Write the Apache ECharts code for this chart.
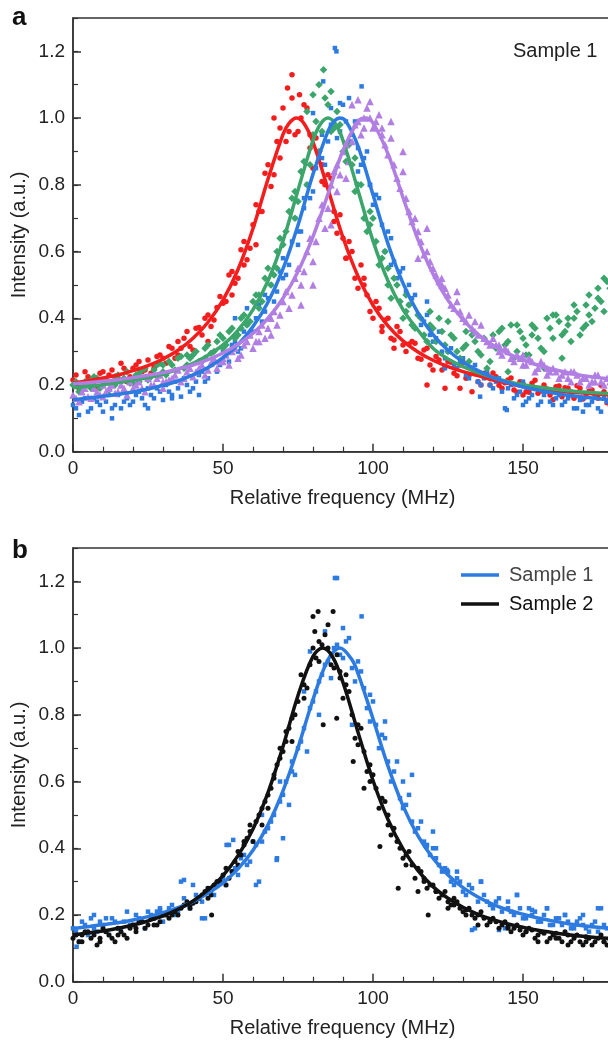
<!DOCTYPE html>
<html><head><meta charset="utf-8">
<script src="https://cdn.jsdelivr.net/npm/echarts@6/dist/echarts.min.js"></script>
<style>html,body{margin:0;padding:0;background:#fff}#c{width:608px;height:1044px}</style>
</head><body><div id="c"></div>
<script>
// ---------- data ----------
const freq = [0,2,4,6,8,10,12,14,16,18,20,22,24,26,28,30,32,34,36,38,40,42,44,46,48,50,52,54,56,58,60,62,64,66,68,70,72,74,76,78,80,82,84,86,88,90,92,94,96,98,100,102,104,106,108,110,112,114,116,118,120,122,124,126,128,130,132,134,136,138,140,142,144,146,148,150,152,154,156,158,160,162,164,166,168,170,172,174,176,178,180];
const freqOdd = [1,3,5,7,9,11,13,15,17,19,21,23,25,27,29,31,33,35,37,39,41,43,45,47,49,51,53,55,57,59,61,63,65,67,69,71,73,75,77,79,81,83,85,87,89,91,93,95,97,99,101,103,105,107,109,111,113,115,117,119,121,123,125,127,129,131,133,135,137,139,141,143,145,147,149,151,153,155,157,159,161,163,165,167,169,171,173,175,177,179];

const redVals = [.215,.19,.24,.21,.19,.24,.23,.215,.265,.21,
 .25,.27,.245,.235,.285,.28,.315,.28,.31,.36,
 .305,.372,.40,.375,.432,.445,.53,.505,.605,.575,
 .68,.72,.835,.795,.93,1.03,.96,.95,1.0,1.03,
 .85,.90,.80,.82,.655,.64,.63,.52,.56,.47,
 .40,.43,.395,.34,.375,.32,.323,.325,.277,.31,
 .245,.275,.256,.268,.228,.268,.229,.236,.2,.232,
 .236,.199,.207,.221,.178,.204,.178,.214,.182,.188,
 .156,.197,.192,.17,.198,.158,.181,.171,.199,.147,.179];
const redOdd = [.23,.2,.225,.2,.235,.21,.245,.22,.25,.225,
 .26,.24,.275,.25,.29,.265,.31,.29,.34,.315,
 .37,.35,.41,.395,.465,.45,.54,.52,.63,.61,
 .74,.72,.86,.83,.97,.93,1.06,.96,1.04,.91,
 .94,.81,.83,.69,.71,.58,.60,.49,.52,.42,
 .45,.375,.40,.335,.36,.30,.33,.28,.305,.26,
 .285,.245,.27,.235,.26,.22,.25,.21,.235,.2,
 .225,.19,.215,.185,.21,.18,.205,.175,.2,.17,
 .195,.165,.19,.16,.19,.165,.185,.16,.18,.165];
const redExtra = [[73,1.13],[71.5,1.09],[75.5,1.07],[69,.88],[67,1.0],[79,.95],[83,.86],[61,.62],[57,.56],[53,.47],[87,.72],[91,.58],[97,.5],[103,.36],[107,.31],[45,.33],[35,.33],[27,.26],[129,.19],[133,.18],[150,.17],[118,.2],[124,.19]];

const greenVals = [.20,.18,.21,.19,.22,.20,.185,.225,.21,.24,
 .205,.235,.25,.225,.26,.24,.27,.245,.285,.26,
 .29,.27,.31,.295,.33,.31,.36,.34,.40,.38,
 .45,.43,.52,.50,.60,.62,.72,.70,.84,.80,
 .95,.90,1.06,.96,1.02,.90,.92,.78,.80,.66,
 .70,.56,.60,.46,.50,.40,.44,.37,.40,.33,
 .37,.40,.32,.35,.30,.31,.27,.33,.29,.25,
 .35,.36,.32,.38,.30,.34,.29,.37,.31,.40,
 .34,.39,.36,.33,.42,.37,.47,.43,.45,.51,.47];
const greenOdd = [.21,.19,.20,.225,.19,.215,.20,.23,.22,.205,
 .23,.245,.215,.245,.265,.23,.26,.28,.25,.28,
 .30,.27,.32,.30,.35,.32,.37,.35,.41,.39,
 .47,.45,.55,.53,.64,.66,.76,.75,.87,.86,
 .99,.96,1.04,.97,.98,.87,.86,.80,.70,.68,
 .63,.58,.50,.52,.45,.42,.38,.41,.35,.38,
 .33,.36,.30,.34,.28,.32,.35,.30,.34,.27,
 .31,.37,.33,.28,.36,.32,.38,.34,.30,.37,
 .41,.35,.38,.40,.35,.44,.39,.46,.42,.49];
const greenExtra = [[83.5,1.145],[82,1.1],[80,1.07],[78,1.02],[86,1.08],[74,.78],[68,.55],[62,.47],[56,.37],[50,.34],[44,.28],[38,.29],[30,.26],[22,.21],[14,.2],[6,.215],[94,.88],[99,.72],[105,.55],[111,.47],[119,.42],[125,.39],[131,.36],[139,.22],[145,.24],[148,.38],[151,.29],[153,.35],[157,.25],[160,.41],[163,.28],[165,.4],[167,.44],[171,.38],[172,.41],[175,.49],[177,.52]];

const blueAVals = [.14,.11,.16,.13,.15,.12,.17,.14,.13,.16,
 .15,.18,.14,.17,.19,.155,.18,.21,.165,.20,
 .19,.23,.21,.26,.24,.30,.27,.33,.31,.38,
 .36,.44,.42,.50,.48,.58,.56,.70,.66,.80,
 .78,.90,.86,.98,.94,1.04,.93,.99,.86,.90,
 .74,.76,.60,.64,.52,.55,.44,.47,.38,.41,
 .33,.36,.28,.31,.25,.28,.22,.26,.20,.24,
 .19,.22,.13,.20,.17,.21,.16,.19,.15,.18,
 .14,.17,.15,.18,.13,.16,.14,.17,.12,.15,.16];
const blueAOdd = [.13,.15,.12,.16,.14,.15,.13,.17,.15,.14,
 .17,.16,.19,.16,.18,.2,.17,.19,.22,.18,
 .21,.24,.22,.27,.26,.29,.32,.30,.36,.35,
 .40,.39,.46,.45,.54,.53,.63,.66,.73,.76,
 .85,.88,.93,.97,.96,.99,.95,.91,.88,.80,
 .77,.68,.66,.57,.54,.48,.46,.41,.39,.35,
 .34,.30,.30,.26,.27,.23,.25,.21,.22,.20,
 .21,.18,.19,.16,.18,.15,.17,.14,.17,.15,
 .16,.14,.16,.13,.155,.14,.15,.13,.16,.14];
const blueAExtra = [[87.3,1.21],[87.8,1.2],[96.2,1.095],[83.4,1.11],[89,1.045],[80,1.015],[92,1.06],[86,1.03],[83,.95],[75,.62],[70,.52],[64,.47],[58,.43],[54,.40],[112,.5],[118,.45],[106,.56],[99,.8],[95,.84],[77,.76],[13,.1],[25,.13],[33,.16],[42,.17],[144.6,.125],[135.7,.165],[150,.14],[170,.12],[124,.25]];

const purpleVals = [.17,.15,.19,.16,.18,.165,.19,.175,.20,.17,
 .19,.21,.18,.20,.22,.19,.215,.23,.21,.24,
 .225,.25,.23,.265,.25,.28,.26,.31,.29,.33,
 .31,.36,.34,.40,.38,.45,.43,.52,.50,.60,
 .57,.70,.67,.80,.78,.90,.87,.98,.95,1.03,
 .97,1.01,.92,.94,.82,.84,.72,.70,.63,.60,
 .55,.51,.49,.44,.45,.40,.41,.36,.38,.33,
 .34,.30,.31,.28,.29,.26,.28,.24,.27,.23,
 .25,.22,.24,.21,.23,.22,.20,.23,.21,.22,.20];
const purpleOdd = [.16,.18,.165,.19,.17,.18,.2,.18,.19,.21,
 .2,.19,.22,.2,.23,.21,.22,.245,.22,.25,
 .24,.26,.245,.28,.27,.29,.3,.28,.32,.35,
 .33,.38,.37,.42,.41,.48,.47,.55,.54,.64,
 .63,.74,.73,.84,.83,.92,.93,.99,.97,1.0,
 .99,.95,.89,.86,.79,.76,.69,.66,.59,.57,
 .53,.5,.47,.43,.42,.39,.37,.35,.34,.32,
 .32,.29,.3,.27,.28,.26,.27,.25,.26,.24,
 .24,.23,.22,.24,.21,.22,.21,.23,.2,.21];
const purpleExtra = [[95,1.055],[93,1.04],[99,1.05],[97,1.0],[103,.97],[122.9,.52],[128,.48],[118,.67],[110,.9],[106,.99],[88,.86],[80,.5],[76,.44],[86,.68],[91,.82],[115,.58],[134,.39],[142,.32],[150,.29],[158,.25],[166,.24],[174,.21],[10,.2],[30,.21],[50,.27],[62,.33],[66,.35]];

const blackVals = [.13,.12,.15,.13,.11,.16,.14,.12,.15,.13,
 .17,.18,.16,.19,.17,.20,.19,.21,.22,.24,
 .235,.25,.27,.26,.30,.32,.31,.36,.38,.43,
 .42,.50,.54,.58,.65,.69,.76,.80,.92,.88,
 1.0,.96,1.04,.95,.98,.85,.87,.73,.76,.63,
 .62,.52,.54,.44,.42,.37,.39,.31,.33,.28,
 .29,.25,.27,.23,.24,.21,.22,.19,.21,.17,
 .19,.16,.18,.15,.17,.14,.16,.13,.15,.12,
 .14,.13,.15,.12,.14,.11,.13,.12,.14,.11,.13];
const blackOdd = [.14,.12,.15,.14,.13,.15,.13,.16,.14,.16,
 .15,.18,.17,.19,.18,.2,.21,.2,.23,.22,
 .24,.26,.28,.29,.3,.34,.33,.39,.41,.45,
 .48,.52,.56,.61,.67,.72,.79,.84,.89,.95,
 .97,1.01,1.0,.94,.91,.89,.80,.77,.69,.65,
 .58,.55,.47,.46,.40,.38,.35,.34,.31,.29,
 .27,.26,.24,.23,.22,.215,.2,.2,.19,.18,
 .18,.17,.165,.16,.155,.15,.155,.14,.145,.13,
 .145,.12,.14,.13,.12,.135,.11,.13,.12,.125];
const blackExtra = [[80,1.095],[81.7,1.11],[86.7,1.11],[85,1.07],[80.6,1.05],[82,1.02],[83.4,.77],[87.9,.79],[93.4,.66],[46.2,.2],[102.3,.405],[108.4,.28],[115,.27],[118.4,.2],[73,.72],[69,.7],[65,.52],[97,.58],[91,.92],[59,.47],[63,.47],[125,.22],[135,.17],[155,.12],[165,.11],[3,.14],[9,.12],[15,.14],[21,.16],[27,.17],[33,.2],[39,.23],[45,.25],[51,.29],[55,.35],[57,.42],[67,.62],[71,.75],[77,.85],[89,.93],[95,.71],[99,.6],[105,.5],[111,.35],[117,.3],[121,.27],[127,.25],[131,.2],[139,.18],[145,.16],[151,.15],[161,.13],[171,.12],[177,.12]];

const blueBVals = [.16,.12,.17,.19,.15,.17,.14,.18,.16,.21,
 .17,.19,.16,.20,.21,.18,.22,.20,.30,.23,
 .29,.25,.19,.27,.29,.31,.41,.34,.37,.35,
 .42,.30,.45,.48,.37,.56,.53,.62,.72,.69,
 .84,.80,.95,.91,1.01,.97,1.03,.90,.93,.82,
 .84,.70,.73,.60,.66,.52,.56,.45,.48,.41,
 .40,.35,.34,.30,.31,.27,.29,.16,.30,.24,
 .22,.25,.16,.21,.26,.19,.22,.21,.18,.22,
 .17,.19,.20,.16,.18,.17,.15,.18,.22,.16,.17];
const blueBOdd = [.15,.18,.14,.16,.18,.15,.19,.16,.18,.17,
 .2,.18,.21,.19,.22,.2,.23,.21,.25,.22,
 .26,.24,.28,.26,.3,.29,.33,.32,.38,.36,
 .41,.42,.46,.5,.54,.6,.63,.7,.76,.82,
 .87,.92,.96,1.0,.98,1.02,.94,.96,.88,.86,
 .77,.74,.66,.63,.55,.53,.48,.46,.42,.38,
 .37,.33,.33,.29,.3,.26,.28,.24,.26,.23,
 .24,.21,.22,.2,.22,.19,.2,.18,.2,.17,
 .19,.17,.18,.16,.19,.16,.17,.15,.17,.16];
const blueBExtra = [[87.3,1.21],[88,1.21],[96.2,1.095],[84,1.05],[90,1.06],[79,.99],[82,.9],[77,.87],[93,.77],[99,.78],[73,.66],[69,.6],[63,.5],[110,.6],[120,.45],[117.9,.405],[121,.4],[124.6,.335],[136,.3],[148,.26],[158,.22],[175,.22],[133,.155],[142,.155],[153,.215],[164,.2],[1.2,.105],[7,.2],[11,.19],[29,.215],[37,.305],[43,.19],[51.2,.41],[53.4,.425],[61,.29],[67.9,.365],[70,.43],[104,.78],[113,.62],[128,.33],[145,.24],[170,.2]];

// fitted curves
const redFit = [[0,.206],[5,.213],[10,.221],[15,.23],[20,.243],[25,.258],[30,.278],[35,.304],[40,.34],[45,.388],[50,.454],[55,.546],[60,.669],[65,.817],[70,.951],[72,.984],[74.5,1.0],[77,.984],[80,.928],[85,.787],[90,.642],[95,.526],[100,.439],[105,.377],[110,.332],[115,.299],[120,.274],[125,.255],[130,.24],[135,.228],[140,.215],[145,.205],[150,.195],[160,.183],[170,.176],[180,.17],[190,.167],[200,.165]];
const greenFit = [[0,.192],[5,.196],[10,.201],[15,.207],[20,.214],[25,.222],[30,.233],[35,.247],[40,.265],[45,.289],[50,.32],[55,.364],[60,.426],[65,.512],[70,.632],[75,.784],[80,.933],[82.5,.982],[85,1.0],[87.5,.982],[90,.933],[95,.784],[100,.632],[105,.512],[110,.426],[115,.364],[120,.31],[125,.278],[130,.255],[135,.237],[140,.222],[145,.21],[150,.201],[155,.194],[160,.188],[165,.183],[170,.179],[175,.176],[180,.174],[190,.17],[200,.167]];
const blueFitA = [[0,.156],[5,.161],[10,.166],[15,.172],[20,.179],[25,.188],[30,.199],[35,.212],[40,.23],[45,.252],[50,.282],[55,.321],[60,.375],[65,.448],[70,.548],[75,.679],[80,.832],[85,.961],[87,.99],[89,1.0],[91,.99],[95,.916],[100,.77],[105,.623],[110,.505],[115,.416],[120,.351],[125,.304],[130,.269],[135,.243],[140,.222],[145,.207],[150,.194],[155,.184],[160,.176],[165,.169],[170,.164],[175,.159],[180,.155],[190,.149],[200,.144]];
const purpleFit = [[0,.204],[5,.207],[10,.211],[15,.216],[20,.222],[25,.229],[30,.237],[35,.248],[40,.26],[45,.276],[50,.296],[55,.322],[60,.355],[65,.40],[70,.46],[75,.54],[80,.645],[85,.772],[90,.903],[95,.989],[97.3,1.0],[100,.985],[105,.893],[110,.762],[115,.636],[120,.533],[125,.454],[130,.396],[135,.352],[140,.319],[145,.294],[150,.275],[155,.259],[160,.247],[165,.237],[170,.228],[175,.222],[180,.216],[190,.207],[200,.2]];
const blackFit = [[0,.14],[5,.146],[10,.152],[15,.16],[20,.17],[25,.182],[30,.197],[35,.217],[40,.242],[45,.275],[50,.318],[55,.378],[60,.458],[65,.567],[70,.705],[75,.858],[80,.975],[83.2,1.0],[86.5,.974],[90,.897],[95,.748],[100,.603],[105,.486],[110,.398],[115,.333],[120,.285],[125,.25],[130,.223],[135,.202],[140,.186],[145,.173],[150,.163],[155,.154],[160,.147],[165,.141],[170,.136],[175,.132],[180,.129],[190,.123],[200,.118]];
const blueFitB = [[0,.16],[5,.165],[10,.171],[15,.177],[20,.185],[25,.195],[30,.207],[35,.222],[40,.24],[45,.265],[50,.296],[55,.338],[60,.394],[65,.47],[70,.572],[75,.701],[80,.846],[85,.965],[89,1.0],[93,.965],[95,.924],[100,.788],[105,.646],[110,.527],[115,.437],[120,.37],[125,.32],[130,.282],[135,.254],[140,.232],[145,.215],[150,.202],[155,.191],[160,.182],[165,.174],[170,.168],[175,.163],[180,.159],[190,.152],[200,.146]];

const xTicks = [0, 200, 50];      // min, max, major step
const yTicks = [0, 1.3, 0.2, 0.1]; // min, max, major, minor

// ---------- chart ----------
const FONT = '"Liberation Sans", Arial, sans-serif';
const AX = '#333';
const C = {red:'#f41d1d', green:'#3ba56b', blue:'#2d7be0', purple:'#b17fe3', black:'#111111'};
const pts = (vals, odd, extra) => freq.map((f, i) => [f, vals[i]])
  .concat(freqOdd.map((f, i) => [f, odd[i]])).concat(extra);

const grids = [
  {left:73, top:18, width:600, height:433.7, show:true, borderColor:AX, borderWidth:1.5, outerBoundsMode:'none', containLabel:false},
  {left:73, top:548, width:600, height:433.7, show:true, borderColor:AX, borderWidth:1.5, outerBoundsMode:'none', containLabel:false}
];
const xAxes = [0,1].map(g => ({
  type:'value', gridIndex:g, min:xTicks[0], max:xTicks[1], interval:xTicks[2],
  axisLine:{show:true, lineStyle:{color:AX, width:1.5}},
  axisTick:{show:true, inside:true, length:8, lineStyle:{color:AX, width:1.5}},
  minorTick:{show:true, splitNumber:5, length:5, lineStyle:{color:AX, width:1.2}},
  splitLine:{show:false},
  axisLabel:{fontSize:19, color:'#222', margin:8, fontFamily:FONT}
}));
const yAxes = [];
[0,1].forEach(g => {
  yAxes.push({
    type:'value', gridIndex:g, position:'left', min:yTicks[0], max:yTicks[1], interval:yTicks[3],
    axisLine:{show:true, lineStyle:{color:AX, width:1.5}},
    axisTick:{show:true, inside:true, length:5, lineStyle:{color:AX, width:1.2}},
    axisLabel:{show:false}, splitLine:{show:false}
  });
  yAxes.push({
    type:'value', gridIndex:g, position:'left', min:yTicks[0], max:yTicks[1], interval:yTicks[2],
    axisLine:{show:false},
    axisTick:{show:true, inside:true, length:8, lineStyle:{color:AX, width:1.5}},
    axisLabel:{fontSize:19, color:'#222', margin:8, fontFamily:FONT, showMaxLabel:false,
      formatter: v => (v > 1.25 ? '' : v.toFixed(1))},
    splitLine:{show:false}
  });
});

function scat(name, data, g, color, symbol, size) {
  return {type:'scatter', name, data, xAxisIndex:g, yAxisIndex:g*2, symbol, symbolSize:size,
    itemStyle:{color, opacity:1}, z:2, silent:true};
}
function fit(name, data, g, color) {
  return {type:'line', name, data, xAxisIndex:g, yAxisIndex:g*2, showSymbol:false, smooth:0.35,
    color, lineStyle:{color, width:3.5}, itemStyle:{color}, z:3, silent:true, clip:true};
}

const series = [
  scat('red pts', pts(redVals, redOdd, redExtra), 0, C.red, 'circle', 5.5),
  scat('blue pts', pts(blueAVals, blueAOdd, blueAExtra), 0, C.blue, 'rect', 4.5),
  scat('green pts', pts(greenVals, greenOdd, greenExtra), 0, C.green, 'diamond', 7.5),
  scat('purple pts', pts(purpleVals, purpleOdd, purpleExtra), 0, C.purple, 'triangle', 7.5),
  fit('red fit', redFit, 0, C.red),
  fit('green fit', greenFit, 0, C.green),
  fit('blue fit', blueFitA, 0, C.blue),
  fit('purple fit', purpleFit, 0, C.purple),
  scat('Sample 1 pts', pts(blueBVals, blueBOdd, blueBExtra), 1, C.blue, 'rect', 4.5),
  scat('Sample 2 pts', pts(blackVals, blackOdd, blackExtra), 1, C.black, 'circle', 5),
  fit('Sample 1', blueFitB, 1, C.blue),
  fit('Sample 2', blackFit, 1, C.black)
];

const txt = (text, x, y, size, extra) => Object.assign({type:'text', x, y, silent:true,
  style:Object.assign({text, fontSize:size, fontFamily:FONT, fill:'#222', align:'left', verticalAlign:'middle'}, extra || {})});

const option = {
  animation:false,
  backgroundColor:'#fff',
  grid:grids, xAxis:xAxes, yAxis:yAxes, series,
  legend:{
    data:[{name:'Sample 1', textStyle:{color:'#444'}}, {name:'Sample 2'}],
    orient:'vertical', left:461, top:565, padding:0,
    icon:'rect', itemWidth:38, itemHeight:3.5, itemGap:9, selectedMode:false,
    textStyle:{fontSize:20, fontFamily:FONT, color:'#111', padding:[0,0,0,5]}
  },
  graphic:[
    txt('a', 12, 18, 26, {fontWeight:'bold', fill:'#111'}),
    txt('b', 12, 551, 26, {fontWeight:'bold', fill:'#111'}),
    txt('Sample 1', 513, 51, 20),
    txt('Relative frequency (MHz)', 342.5, 498, 20, {align:'center'}),
    txt('Relative frequency (MHz)', 342.5, 1028, 20, {align:'center'}),
    Object.assign(txt('Intensity (a.u.)', 19, 235, 20, {align:'center'}), {rotation:Math.PI/2}),
    Object.assign(txt('Intensity (a.u.)', 19, 765, 20, {align:'center'}), {rotation:Math.PI/2})
  ]
};
const chart = echarts.init(document.getElementById('c'));
chart.setOption(option);
</script></body></html>
